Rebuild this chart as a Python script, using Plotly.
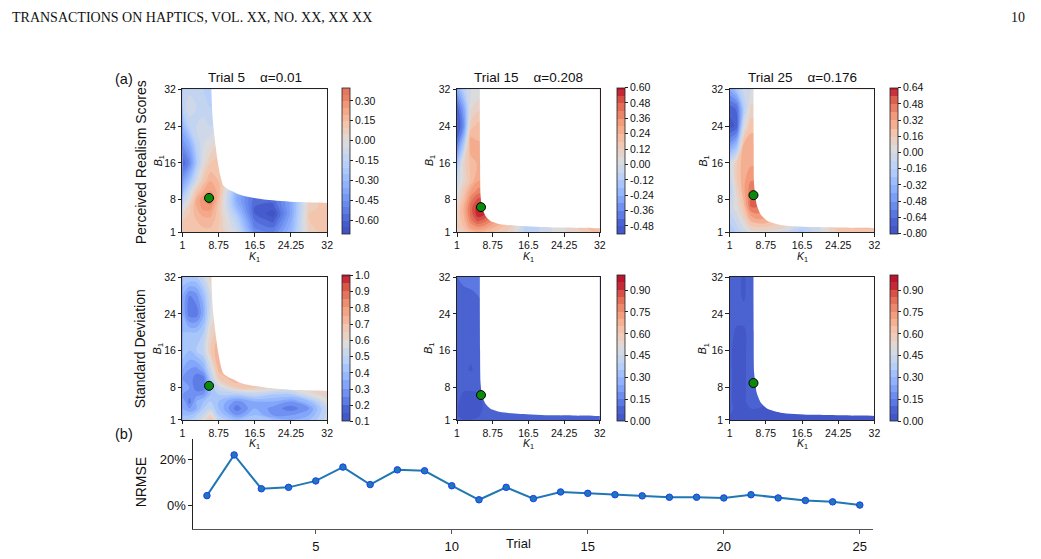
import plotly.graph_objects as go

W, H = 1041, 559
FONT = "Liberation Sans"
SERIF = "Liberation Serif"

# ---------------- data ----------------
K1_GRID = [1, 2.5, 4, 5.5, 7, 8.75, 12.625, 16.5, 20.375, 24.25, 28.125, 32]
B1_GRID = [1, 2, 3.5, 5, 6.5, 8, 10, 12, 16, 20, 24, 28, 32]

# rows follow B1_GRID (bottom -> top), columns follow K1_GRID
MEAN_T5 = [
    [0.15, 0.12, 0.10, 0.12, 0.15, 0.10, -0.05, -0.45, -0.50, -0.30, 0.08, 0.12],
    [0.13, 0.12, 0.12, 0.15, 0.15, 0.10, -0.10, -0.50, -0.55, -0.32, 0.08, 0.15],
    [0.10, 0.12, 0.15, 0.18, 0.18, 0.12, -0.15, -0.55, -0.62, -0.35, 0.10, 0.15],
    [0.05, 0.10, 0.18, 0.22, 0.22, 0.12, -0.22, -0.60, -0.68, -0.38, 0.10, 0.15],
    [-0.05, 0.08, 0.20, 0.28, 0.28, 0.12, -0.30, -0.60, -0.62, -0.38, 0.08, 0.12],
    [-0.15, 0.00, 0.20, 0.30, 0.35, 0.15, -0.35, -0.58, -0.58, -0.38, 0.08, 0.12],
    [-0.30, -0.10, 0.10, 0.20, 0.25, 0.18, -0.30, -0.55, -0.55, -0.38, 0.05, 0.12],
    [-0.40, -0.25, -0.05, 0.12, 0.20, 0.15, -0.10, -0.40, -0.45, -0.35, 0.05, 0.10],
    [-0.60, -0.48, -0.22, 0.00, 0.10, 0.12, 0.05, -0.10, -0.20, -0.20, 0.00, 0.05],
    [-0.45, -0.35, -0.15, -0.05, 0.00, 0.05, 0.05, 0.00, -0.05, -0.05, 0.00, 0.00],
    [-0.30, -0.15, -0.10, -0.08, -0.10, -0.05, 0.00, 0.00, 0.00, 0.00, 0.00, 0.00],
    [-0.15, -0.05, -0.10, -0.12, -0.15, -0.15, -0.10, -0.05, 0.00, 0.00, 0.00, 0.00],
    [-0.15, -0.12, -0.10, -0.15, -0.20, -0.20, -0.15, -0.10, -0.05, 0.00, 0.00, 0.00],
]
MEAN_T15 = [
    [0.10, 0.12, 0.20, 0.25, 0.22, 0.18, 0.10, -0.12, -0.02, 0.05, 0.12, 0.22],
    [0.12, 0.18, 0.30, 0.35, 0.32, 0.25, 0.12, -0.12, -0.02, 0.05, 0.15, 0.25],
    [0.12, 0.22, 0.40, 0.50, 0.45, 0.35, 0.20, 0.00, 0.00, 0.05, 0.15, 0.25],
    [0.12, 0.25, 0.45, 0.58, 0.55, 0.45, 0.25, 0.05, 0.05, 0.05, 0.15, 0.25],
    [0.10, 0.25, 0.45, 0.58, 0.58, 0.45, 0.25, 0.05, 0.05, 0.05, 0.15, 0.25],
    [0.05, 0.20, 0.40, 0.50, 0.50, 0.40, 0.20, 0.05, 0.05, 0.05, 0.15, 0.25],
    [0.00, 0.15, 0.30, 0.38, 0.38, 0.30, 0.20, 0.05, 0.05, 0.05, 0.15, 0.25],
    [-0.05, 0.08, 0.20, 0.30, 0.30, 0.25, 0.20, 0.05, 0.05, 0.05, 0.15, 0.25],
    [-0.18, 0.10, 0.20, 0.25, 0.25, 0.20, 0.20, 0.05, 0.05, 0.05, 0.15, 0.25],
    [-0.38, -0.12, 0.30, 0.25, 0.25, 0.20, 0.20, 0.05, 0.05, 0.05, 0.15, 0.25],
    [-0.52, -0.32, 0.15, 0.20, 0.20, 0.20, 0.20, 0.05, 0.05, 0.05, 0.15, 0.25],
    [-0.45, -0.25, 0.05, 0.10, 0.10, 0.10, 0.10, 0.05, 0.05, 0.05, 0.15, 0.25],
    [-0.25, -0.08, 0.00, 0.00, 0.00, 0.00, 0.00, 0.00, 0.05, 0.05, 0.15, 0.25],
]
MEAN_T25 = [
    [-0.25, -0.15, -0.05, 0.05, 0.05, 0.05, -0.05, -0.20, 0.00, 0.15, 0.20, 0.20],
    [-0.20, -0.10, 0.00, 0.12, 0.15, 0.15, 0.10, -0.12, 0.00, 0.20, 0.25, 0.25],
    [-0.15, -0.05, 0.08, 0.25, 0.30, 0.30, 0.15, 0.00, 0.05, 0.20, 0.25, 0.25],
    [-0.10, 0.00, 0.15, 0.35, 0.40, 0.35, 0.15, 0.00, 0.05, 0.20, 0.25, 0.25],
    [-0.05, 0.05, 0.20, 0.48, 0.48, 0.40, 0.15, 0.00, 0.05, 0.20, 0.25, 0.25],
    [-0.10, 0.05, 0.25, 0.50, 0.50, 0.45, 0.15, 0.00, 0.05, 0.20, 0.25, 0.25],
    [-0.15, 0.10, 0.30, 0.45, 0.45, 0.40, 0.15, 0.00, 0.05, 0.20, 0.25, 0.25],
    [-0.10, 0.15, 0.30, 0.40, 0.40, 0.35, 0.15, 0.00, 0.05, 0.20, 0.25, 0.25],
    [-0.05, 0.15, 0.30, 0.30, 0.30, 0.30, 0.15, 0.00, 0.05, 0.20, 0.25, 0.25],
    [-0.45, -0.30, 0.25, 0.30, 0.30, 0.30, 0.15, 0.00, 0.05, 0.20, 0.25, 0.25],
    [-0.76, -0.70, 0.00, 0.20, 0.20, 0.20, 0.15, 0.00, 0.05, 0.20, 0.25, 0.25],
    [-0.68, -0.62, -0.18, 0.10, 0.10, 0.10, 0.10, 0.00, 0.05, 0.20, 0.25, 0.25],
    [-0.38, -0.22, -0.05, 0.00, 0.00, 0.00, 0.00, 0.00, 0.05, 0.20, 0.25, 0.25],
]
STD_T5 = [
    [0.45, 0.45, 0.50, 0.58, 0.68, 0.50, 0.40, 0.45, 0.40, 0.35, 0.40, 0.52],
    [0.40, 0.40, 0.45, 0.52, 0.62, 0.45, 0.30, 0.40, 0.30, 0.30, 0.35, 0.52],
    [0.35, 0.30, 0.35, 0.45, 0.50, 0.40, 0.22, 0.35, 0.28, 0.22, 0.30, 0.52],
    [0.35, 0.22, 0.35, 0.40, 0.45, 0.40, 0.28, 0.35, 0.35, 0.30, 0.40, 0.58],
    [0.30, 0.28, 0.28, 0.30, 0.40, 0.45, 0.45, 0.50, 0.45, 0.45, 0.58, 0.62],
    [0.35, 0.30, 0.22, 0.22, 0.40, 0.52, 0.65, 0.65, 0.62, 0.62, 0.62, 0.62],
    [0.30, 0.28, 0.22, 0.22, 0.45, 0.65, 0.75, 0.70, 0.65, 0.65, 0.65, 0.65],
    [0.35, 0.30, 0.28, 0.35, 0.52, 0.72, 0.75, 0.70, 0.65, 0.65, 0.65, 0.65],
    [0.45, 0.40, 0.45, 0.50, 0.65, 0.75, 0.75, 0.70, 0.65, 0.65, 0.65, 0.65],
    [0.40, 0.40, 0.40, 0.45, 0.62, 0.68, 0.68, 0.65, 0.65, 0.65, 0.65, 0.65],
    [0.35, 0.22, 0.22, 0.35, 0.55, 0.62, 0.62, 0.62, 0.62, 0.62, 0.62, 0.62],
    [0.35, 0.25, 0.28, 0.40, 0.55, 0.62, 0.62, 0.62, 0.62, 0.62, 0.62, 0.62],
    [0.45, 0.45, 0.45, 0.52, 0.62, 0.65, 0.65, 0.62, 0.62, 0.62, 0.62, 0.62],
]
STD_T15 = [
    [0.06, 0.05, 0.05, 0.06, 0.08, 0.08, 0.08, 0.08, 0.08, 0.08, 0.08, 0.08],
    [0.05, 0.03, 0.03, 0.04, 0.07, 0.08, 0.08, 0.08, 0.08, 0.08, 0.08, 0.08],
    [0.05, 0.03, 0.03, 0.03, 0.06, 0.08, 0.08, 0.08, 0.08, 0.08, 0.08, 0.08],
    [0.06, 0.03, 0.03, 0.03, 0.06, 0.08, 0.08, 0.08, 0.08, 0.08, 0.08, 0.08],
    [0.07, 0.04, 0.04, 0.04, 0.07, 0.08, 0.08, 0.08, 0.08, 0.08, 0.08, 0.08],
    [0.08, 0.06, 0.06, 0.07, 0.08, 0.08, 0.08, 0.08, 0.08, 0.08, 0.08, 0.08],
    [0.08, 0.08, 0.08, 0.08, 0.08, 0.08, 0.08, 0.08, 0.08, 0.08, 0.08, 0.08],
    [0.08, 0.07, 0.04, 0.08, 0.08, 0.08, 0.08, 0.08, 0.08, 0.08, 0.08, 0.08],
    [0.08, 0.08, 0.08, 0.08, 0.09, 0.09, 0.09, 0.09, 0.09, 0.09, 0.09, 0.09],
    [0.08, 0.08, 0.08, 0.08, 0.09, 0.09, 0.09, 0.09, 0.09, 0.09, 0.09, 0.09],
    [0.08, 0.08, 0.07, 0.08, 0.09, 0.09, 0.09, 0.09, 0.09, 0.09, 0.09, 0.09],
    [0.09, 0.09, 0.09, 0.10, 0.11, 0.11, 0.11, 0.11, 0.11, 0.11, 0.11, 0.11],
    [0.10, 0.11, 0.12, 0.13, 0.15, 0.15, 0.15, 0.15, 0.15, 0.15, 0.15, 0.15],
]
STD_T25 = [
    [0.04, 0.04, 0.04, 0.04, 0.04, 0.04, 0.04, 0.04, 0.04, 0.04, 0.04, 0.04],
    [0.05, 0.04, 0.04, 0.04, 0.04, 0.04, 0.04, 0.04, 0.04, 0.04, 0.04, 0.04],
    [0.06, 0.04, 0.04, 0.05, 0.05, 0.04, 0.04, 0.04, 0.04, 0.04, 0.04, 0.04],
    [0.06, 0.03, 0.04, 0.07, 0.07, 0.06, 0.06, 0.06, 0.06, 0.06, 0.06, 0.06],
    [0.06, 0.03, 0.04, 0.07, 0.07, 0.07, 0.07, 0.07, 0.07, 0.07, 0.07, 0.07],
    [0.06, 0.03, 0.04, 0.07, 0.07, 0.07, 0.07, 0.07, 0.07, 0.07, 0.07, 0.07],
    [0.06, 0.03, 0.04, 0.07, 0.07, 0.07, 0.07, 0.07, 0.07, 0.07, 0.07, 0.07],
    [0.06, 0.03, 0.04, 0.07, 0.07, 0.07, 0.07, 0.07, 0.07, 0.07, 0.07, 0.07],
    [0.06, 0.03, 0.04, 0.07, 0.07, 0.07, 0.07, 0.07, 0.07, 0.07, 0.07, 0.07],
    [0.07, 0.04, 0.04, 0.07, 0.07, 0.07, 0.07, 0.07, 0.07, 0.07, 0.07, 0.07],
    [0.08, 0.07, 0.07, 0.08, 0.09, 0.09, 0.09, 0.09, 0.09, 0.09, 0.09, 0.09],
    [0.08, 0.07, 0.04, 0.08, 0.09, 0.09, 0.09, 0.09, 0.09, 0.09, 0.09, 0.09],
    [0.08, 0.07, 0.04, 0.08, 0.10, 0.10, 0.10, 0.10, 0.10, 0.10, 0.10, 0.10],
]

# feasible-region boundary (beyond it the surface is blank)
BOUND_T5_K = [7.2, 7.5, 8.1, 8.6, 9.1, 9.7, 10.6, 11.8, 13.0, 14.7, 19.0, 25.5, 32]
BOUND_T5_B = [32, 25.3, 19.7, 16, 13.3, 11.2, 10.4, 9.8, 9.2, 8.7, 8.0, 7.5, 7.3]
BOUND_T15_K = [5.95, 6.0, 6.1, 6.45, 7.2, 8.25, 10.4, 14.7, 21.9, 32]
BOUND_T15_B = [32, 16, 9.1, 6.2, 4.5, 3.4, 2.7, 2.3, 2.0, 1.85]
BOUND_T25_K = [6.1, 6.15, 6.25, 6.8, 7.65, 9.1, 11.9, 18.3, 32]
BOUND_T25_B = [32, 20, 11.2, 6.9, 4.8, 3.4, 2.55, 2.1, 1.85]

# selected (best) parameters per trial
BEST_K = [6.7, 6.2, 6.1]
BEST_B = [8.4, 6.4, 9.0]

TRIAL_NAMES = ["Trial 5", "Trial 15", "Trial 25"]
ALPHAS = ["0.01", "0.208", "0.176"]

AXIS_TICKS = [1, 8.75, 16.5, 24.25, 32]
K_TICKTEXT = ["1", "8.75", "16.5", "24.25", "32"]
B_TICKS = [1, 8, 16, 24, 32]

# colorbar scales: (low, high, level step, tick values, tick format)
CB_MEAN = [
    (-0.70, 0.40, 0.05, [-0.60, -0.45, -0.30, -0.15, 0.00, 0.15, 0.30], "{:.2f}"),
    (-0.54, 0.60, 0.06, [-0.48, -0.36, -0.24, -0.12, 0.00, 0.12, 0.24, 0.36, 0.48, 0.60], "{:.2f}"),
    (-0.80, 0.64, 0.08, [-0.80, -0.64, -0.48, -0.32, -0.16, 0.00, 0.16, 0.32, 0.48, 0.64], "{:.2f}"),
]
CB_STD = [
    (0.10, 1.00, 0.05, [0.1, 0.2, 0.3, 0.4, 0.5, 0.6, 0.7, 0.8, 0.9, 1.0], "{:.1f}"),
    (0.00, 1.00, 0.05, [0.00, 0.15, 0.30, 0.45, 0.60, 0.75, 0.90], "{:.2f}"),
    (0.00, 1.00, 0.05, [0.00, 0.15, 0.30, 0.45, 0.60, 0.75, 0.90], "{:.2f}"),
]
# where the top of each mean colorbar sits on the diverging map (0 = centre white)
MEAN_TOP_POS = [0.85, 1.0, 1.0]

TRIALS = list(range(1, 26))
NRMSE = [0.041, 0.218, 0.071, 0.077, 0.105, 0.165, 0.089, 0.153, 0.149, 0.084,
         0.023, 0.077, 0.028, 0.057, 0.051, 0.045, 0.040, 0.034, 0.034, 0.031,
         0.045, 0.031, 0.020, 0.014, 0.000]

COOLWARM = [
    (0.0, "#3b4cc0"), (0.125, "#6282ea"), (0.25, "#8db0fe"), (0.375, "#b8d0f9"),
    (0.5, "#dddcdc"), (0.625, "#f5c4ac"), (0.75, "#f39b7a"), (0.875, "#de604d"),
    (1.0, "#b40426"),
]


def hex2rgb(h):
    return tuple(int(h[i:i + 2], 16) for i in (1, 3, 5))


def coolwarm(t):
    t = min(max(t, 0.0), 1.0)
    for (p0, c0), (p1, c1) in zip(COOLWARM[:-1], COOLWARM[1:]):
        if t <= p1:
            f = (t - p0) / (p1 - p0)
            a, b = hex2rgb(c0), hex2rgb(c1)
            return "rgb({},{},{})".format(*[round(a[i] + f * (b[i] - a[i])) for i in range(3)])
    return "rgb({},{},{})".format(*hex2rgb(COOLWARM[-1][1]))


def make_scale(lo, hi, cs, posfn, n=60):
    # plotly maps the colorscale onto [lo + cs/2, hi - cs/2] (band mid-points)
    a, b = lo + cs / 2, hi - cs / 2
    stops = []
    for i in range(n + 1):
        p = i / n
        v = a + p * (b - a)
        stops.append([p, coolwarm(posfn(v))])
    return stops


def diverging(lo, hi, top):
    def f(v):
        if v < 0:
            return 0.5 + 0.5 * v / (-lo)
        return 0.5 + (top - 0.5) * v / hi
    return f


def linear(lo, hi):
    return lambda v: (v - lo) / (hi - lo)


# ---------------- layout geometry (pixels) ----------------
COL_X = [(181, 327), (458, 602), (733, 879)]
ROW_Y = [(85, 231), (277, 423)]
CB_X = [342, 619, 895]
LINE_BOX = (192, 878, 443, 534)


def px(x):
    return x / W


def py(y):
    return 1 - y / H


fig = go.Figure()
layout = dict(
    width=W, height=H, margin=dict(l=0, r=0, t=0, b=0),
    paper_bgcolor="white", plot_bgcolor="white", showlegend=False,
    font=dict(family=FONT, color="#111"),
)
annotations = []

fields = [[MEAN_T5, MEAN_T15, MEAN_T25], [STD_T5, STD_T15, STD_T25]]
bounds = [(BOUND_T5_K, BOUND_T5_B), (BOUND_T15_K, BOUND_T15_B), (BOUND_T25_K, BOUND_T25_B)]
cbs = [CB_MEAN, CB_STD]
K_MAX, B_MAX = K1_GRID[-1], B1_GRID[-1]
OUT = 10

idx = 0
for r in range(2):
    for c in range(3):
        idx += 1
        xa = "x" if idx == 1 else f"x{idx}"
        ya = "y" if idx == 1 else f"y{idx}"
        lo, hi, cs, tv, fmt = cbs[r][c]
        posfn = diverging(lo, hi, MEAN_TOP_POS[c]) if r == 0 else linear(lo, hi)
        x0, x1 = COL_X[c]
        y0, y1 = ROW_Y[r]
        fig.add_trace(go.Contour(
            x=K1_GRID, y=B1_GRID, z=fields[r][c], xaxis=xa, yaxis=ya,
            colorscale=make_scale(lo, hi, cs, posfn), zmin=lo, zmax=hi,
            contours=dict(start=lo + cs, end=hi, size=cs, coloring="fill", showlines=False),
            line=dict(width=0, smoothing=1.0),
            hoverinfo="skip",
            colorbar=dict(
                x=px(CB_X[c]), xanchor="left", xref="paper",
                y=py((y0 + y1) / 2), yanchor="middle", yref="paper",
                len=y1 - y0, lenmode="pixels", thickness=8, thicknessmode="pixels",
                xpad=0, ypad=0, outlinewidth=0.8, outlinecolor="#222",
                tickvals=tv, ticktext=[fmt.format(v) for v in tv],
                ticks="outside", ticklen=3, tickwidth=0.8, tickcolor="#222",
                tickfont=dict(family=FONT, size=10.5, color="#111"),
            ),
        ))
        bk, bb = bounds[c]
        mask_x = [bk[0]] + bk + [K_MAX + OUT, K_MAX + OUT]
        mask_y = [B_MAX + OUT] + bb + [bb[-1], B_MAX + OUT]
        fig.add_trace(go.Scatter(
            x=mask_x, y=mask_y, xaxis=xa, yaxis=ya, mode="lines",
            fill="toself", fillcolor="white",
            line=dict(width=0, color="white", shape="spline", smoothing=0.6),
            hoverinfo="skip",
        ))
        fig.add_trace(go.Scatter(
            x=[BEST_K[c]], y=[BEST_B[c]], xaxis=xa, yaxis=ya, mode="markers",
            marker=dict(size=9, color="#0a8a0a", line=dict(color="black", width=1)),
            hoverinfo="skip",
        ))
        axcommon = dict(showline=True, mirror=True, linecolor="#222", linewidth=1,
                        ticks="outside", ticklen=3.5, tickwidth=0.8, tickcolor="#222",
                        showgrid=False, zeroline=False,
                        tickfont=dict(family=FONT, size=10.5, color="#111"))
        layout["xaxis" if idx == 1 else f"xaxis{idx}"] = dict(
            domain=[px(x0), px(x1)], range=[1, 32], anchor=ya,
            tickvals=AXIS_TICKS, ticktext=K_TICKTEXT, **axcommon)
        layout["yaxis" if idx == 1 else f"yaxis{idx}"] = dict(
            domain=[py(y1), py(y0)], range=[1, 32], anchor=xa,
            tickvals=B_TICKS, ticktext=[str(v) for v in B_TICKS], **axcommon)
        # axis titles
        annotations.append(dict(x=px((x0 + x1) / 2), y=py(y1 + 25), xref="paper", yref="paper",
                                text="<i>K</i><sub>1</sub>", showarrow=False,
                                font=dict(family=FONT, size=10.5), xanchor="center", yanchor="middle"))
        ylab_x = [157, 430, 707][c]
        annotations.append(dict(x=px(ylab_x), y=py((y0 + y1) / 2), xref="paper", yref="paper",
                                text="<i>B</i><sub>1</sub>", showarrow=False, textangle=-90,
                                font=dict(family=FONT, size=10.5), xanchor="center", yanchor="middle"))
        if r == 0:
            annotations.append(dict(x=px((x0 + x1) / 2), y=py(y0 - 2), xref="paper", yref="paper",
                                    text=f"{TRIAL_NAMES[c]}\u00a0\u00a0\u00a0\u00a0\u03b1={ALPHAS[c]}",
                                    showarrow=False, font=dict(family=FONT, size=13.5),
                                    xanchor="center", yanchor="bottom"))

# ---------------- NRMSE line chart ----------------
lx0, lx1, ly0, ly1 = LINE_BOX
fig.add_trace(go.Scatter(
    x=TRIALS, y=NRMSE, xaxis="x7", yaxis="y7", mode="lines+markers",
    line=dict(color="#1f77b4", width=2),
    marker=dict(size=6.5, color="#1f77b4", line=dict(color="#1a3cff", width=1)),
    hoverinfo="skip",
))
layout["xaxis7"] = dict(domain=[px(lx0), px(lx1)], range=[0.5, 25.5], anchor="y7",
                        tickvals=[5, 10, 15, 20, 25], showline=True, mirror=False,
                        linecolor="#555", linewidth=1.2, ticks="outside", ticklen=4,
                        tickcolor="#555", showgrid=False, zeroline=False,
                        ticklabelstandoff=2,
                        tickfont=dict(family=FONT, size=13, color="#111"))
layout["yaxis7"] = dict(domain=[py(ly1), py(ly0)], range=[-0.102, 0.285], anchor="x7",
                        tickvals=[0, 0.2], ticktext=["0%", "20%"], showline=True, mirror=False,
                        linecolor="#222", linewidth=1, ticks="outside", ticklen=4,
                        tickcolor="#222", showgrid=False, zeroline=False,
                        tickfont=dict(family=FONT, size=13, color="#111"))

# ---------------- text annotations ----------------
def txt(x, y, s, size, xanchor="center", angle=0, family=FONT):
    annotations.append(dict(x=px(x), y=py(y), xref="paper", yref="paper", text=s,
                            showarrow=False, textangle=angle, xanchor=xanchor, yanchor="middle",
                            font=dict(family=family, size=size, color="#111")))

txt(7, 12, "TRANSACTIONS ON HAPTICS, VOL. XX, NO. XX, XX XX", 14, xanchor="left", family=SERIF)
txt(1033, 12, "10", 14, xanchor="right", family=SERIF)
txt(122, 75, "(a)", 14.5)
txt(122, 437, "(b)", 14.5)
txt(139, 160, "Perceived Realism Scores", 14, angle=-90)
txt(139, 350, "Standard Deviation", 14, angle=-90)
txt(139, 486, "NRMSE", 14, angle=-90)
txt(520, 549, "Trial", 13)

layout["annotations"] = annotations
fig.update_layout(**layout)
fig.write_html("out.html")
